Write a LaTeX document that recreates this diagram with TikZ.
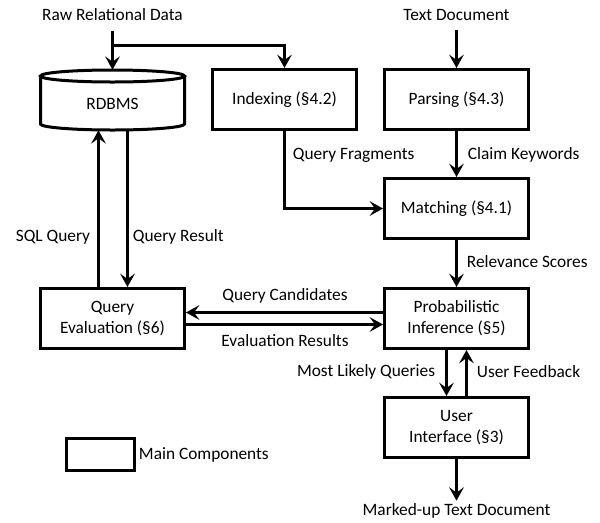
\documentclass[tikz,border=0pt]{standalone}
\usepackage{fontspec}
\setmainfont{Carlito}
\usepackage{tikz}
\usetikzlibrary{arrows.meta}
\begin{document}
\begin{tikzpicture}[x={0.75pt},y={-0.75pt},
font=\fontsize{13}{15.75}\selectfont,
comp/.style={draw,line width=2.25pt,minimum width=108pt,minimum height=45pt,align=center,inner sep=2pt},
flow/.style={line width=2.25pt,-{Stealth[length=10pt,width=11pt,inset=4pt]}},
lbl/.style={inner sep=2pt}]
\useasboundingbox (0,0) rectangle (600,522);
\node[lbl] (raw) at (112.5,15) {Raw Relational Data};
\node[lbl] (text) at (456.5,15) {Text Document};
\node[minimum width=108pt,minimum height=45pt,inner sep=0pt] (rdbms) at (112.5,100) {};
\node[lbl] (rdbmslbl) at (112.5,104) {RDBMS};
\draw[line width=2.25pt] (112.5,76) ellipse [x radius=54pt,y radius=4.5pt];
\draw[line width=2.25pt] (40.5,76) -- (40.5,124) arc[start angle=180,end angle=360,x radius=54pt,y radius=4.5pt] -- (184.5,76);
\node[comp] (index) at (284.5,99.5) {Indexing (§4.2)};
\node[comp] (parse) at (456.5,99.5) {Parsing (§4.3)};
\node[comp] (match) at (456.5,208.5) {Matching (§4.1)};
\node[comp] (prob) at (456.5,318.5) {Probabilistic\\Inference (§5)};
\node[comp] (qe) at (112.5,318.5) {Query\\Evaluation (§6)};
\node[comp] (ui) at (456.5,427.5) {User\\Interface (§3)};
\node[comp,minimum width=51pt,minimum height=24pt] (legend) at (100.5,454.5) {};
\node[lbl,anchor=west] (legendlbl) at (legend.east) {Main Components};
\node[lbl] (out) at (456.5,511) {Marked-up Text Document};

\coordinate (split) at (112.5,45.5);
\draw[flow,shorten <=5pt] (raw.south) -- (rdbms.north);
\draw[flow] (split) -| (index.north);
\draw[flow,shorten <=5pt] (text.south) -- (parse.north);
\draw[flow] (index.south) |- (match.west);
\draw[flow] (parse) -- (match);
\draw[flow] (match) -- (prob);
\draw[flow] ([yshift=4.5pt]prob.west) -- ([yshift=4.5pt]qe.east);
\draw[flow] ([yshift=-4.5pt]qe.east) -- ([yshift=-4.5pt]prob.west);
\draw[flow] ([xshift=-7.5pt]prob.south) -- ([xshift=-7.5pt]ui.north);
\draw[flow] ([xshift=7.5pt]ui.north) -- ([xshift=7.5pt]prob.south);
\draw[flow] ([xshift=-10.5pt]qe.north) -- ([xshift=-10.5pt]qe.north |- rdbms.south);
\draw[flow] ([xshift=11.25pt]qe.north |- rdbms.south) -- ([xshift=11.25pt]qe.north);
\draw[flow] (ui) -- (out);

\node[lbl,anchor=west] (fraglbl) at (290,155) {Query Fragments};
\node[lbl,anchor=west] (claimlbl) at (465,155) {Claim Keywords};
\node[lbl,anchor=west] (scorelbl) at (464,262) {Relevance Scores};
\node[lbl,anchor=east] (sqllbl) at (93,237) {SQL Query};
\node[lbl,anchor=west] (resultlbl) at (130,237) {Query Result};
\node[lbl] (candlbl) at (285,296) {Query Candidates};
\node[lbl] (evallbl) at (285,341) {Evaluation Results};
\node[lbl,anchor=east] (likelylbl) at (438,372) {Most Likely Queries};
\node[lbl,anchor=west] (feedlbl) at (474,372) {User Feedback};
\end{tikzpicture}
\end{document}
